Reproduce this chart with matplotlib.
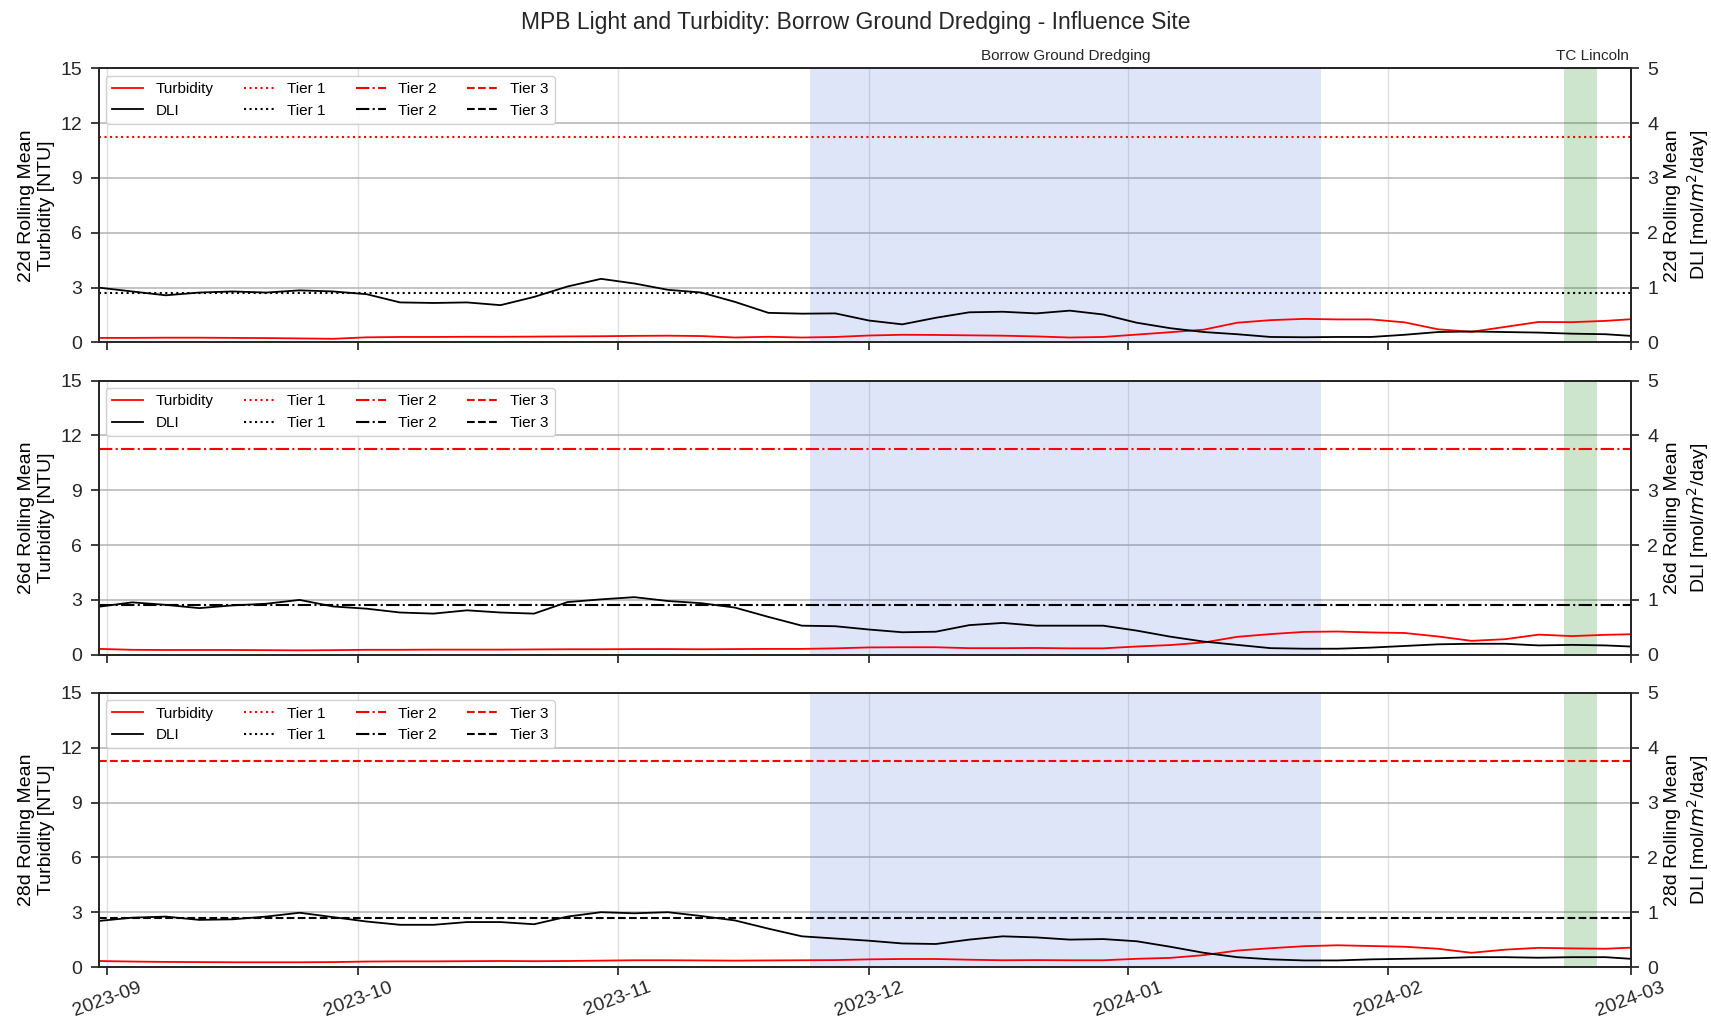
import matplotlib
matplotlib.use("Agg")
import matplotlib.pyplot as plt
import matplotlib.dates as mdates
import matplotlib.transforms as mtransforms
from matplotlib.lines import Line2D
import pandas as pd

# ── Matplotlib defaults ──────────────────────────────────────────────────────
plt.rcParams.update({
    "font.family": ["Liberation Sans", "DejaVu Sans"],
    "font.size": 14,
    "axes.edgecolor": "#262626",
    "axes.linewidth": 1.25,
    "xtick.color": "#262626",
    "ytick.color": "#262626",
    "xtick.major.size": 6,
    "ytick.major.size": 6,
    "xtick.major.width": 1.25,
    "ytick.major.width": 1.25,
    "xtick.major.pad": 2.5,
    "ytick.major.pad": 6,
    "xtick.labelsize": 14,
    "ytick.labelsize": 14,
})

# ── Data ─────────────────────────────────────────────────────────────────────
DATES = pd.date_range("2023-08-31", "2024-02-27", freq="4D").append(
    pd.DatetimeIndex(["2024-03-01"]))

WINDOWS = ["22d", "26d", "28d"]

TURB_22 = [0.25, 0.25, 0.26, 0.26, 0.25, 0.24, 0.22, 0.20, 0.28, 0.30, 0.30, 0.31,
           0.31, 0.32, 0.33, 0.34, 0.36, 0.37, 0.35, 0.27, 0.31, 0.27, 0.30, 0.38,
           0.42, 0.41, 0.39, 0.37, 0.33, 0.27, 0.30, 0.43, 0.56, 0.70, 1.08, 1.22,
           1.29, 1.26, 1.26, 1.10, 0.72, 0.58, 0.85, 1.12, 1.11, 1.18, 1.27]
DLI_22 = [1.00, 0.93, 0.86, 0.91, 0.93, 0.91, 0.95, 0.93, 0.88, 0.73, 0.72, 0.73,
          0.68, 0.83, 1.02, 1.16, 1.075, 0.96, 0.91, 0.74, 0.54, 0.525, 0.53, 0.40,
          0.33, 0.45, 0.55, 0.56, 0.53, 0.58, 0.51, 0.36, 0.26, 0.19, 0.15, 0.10,
          0.095, 0.10, 0.10, 0.14, 0.19, 0.20, 0.19, 0.18, 0.16, 0.15, 0.12]

TURB_26 = [0.32, 0.27, 0.26, 0.26, 0.26, 0.25, 0.24, 0.25, 0.27, 0.27, 0.28, 0.28,
           0.28, 0.29, 0.30, 0.30, 0.31, 0.31, 0.30, 0.31, 0.32, 0.32, 0.35, 0.40,
           0.41, 0.41, 0.36, 0.36, 0.37, 0.35, 0.35, 0.45, 0.53, 0.67, 0.98, 1.13,
           1.25, 1.27, 1.22, 1.19, 1.00, 0.76, 0.85, 1.10, 1.02, 1.09, 1.12]
DLI_26 = [0.875, 0.955, 0.91, 0.85, 0.90, 0.93, 1.00, 0.88, 0.84, 0.77, 0.75, 0.81,
          0.77, 0.75, 0.96, 1.01, 1.05, 0.98, 0.94, 0.86, 0.69, 0.53, 0.52, 0.46,
          0.41, 0.42, 0.54, 0.58, 0.53, 0.53, 0.53, 0.44, 0.33, 0.24, 0.18, 0.12,
          0.11, 0.11, 0.13, 0.16, 0.19, 0.20, 0.20, 0.17, 0.18, 0.17, 0.15]

TURB_28 = [0.33, 0.30, 0.28, 0.27, 0.26, 0.26, 0.26, 0.27, 0.30, 0.31, 0.31, 0.32,
           0.33, 0.32, 0.33, 0.35, 0.37, 0.37, 0.36, 0.35, 0.36, 0.37, 0.38, 0.42,
           0.44, 0.44, 0.40, 0.37, 0.38, 0.37, 0.37, 0.45, 0.50, 0.65, 0.90, 1.03,
           1.14, 1.19, 1.15, 1.11, 1.00, 0.78, 0.95, 1.05, 1.02, 1.00, 1.06]
DLI_28 = [0.84, 0.90, 0.92, 0.86, 0.87, 0.92, 0.99, 0.91, 0.83, 0.77, 0.77, 0.82,
          0.82, 0.78, 0.92, 1.00, 0.98, 1.00, 0.93, 0.85, 0.70, 0.56, 0.52, 0.48,
          0.43, 0.42, 0.50, 0.56, 0.54, 0.50, 0.51, 0.47, 0.37, 0.26, 0.18, 0.14,
          0.12, 0.12, 0.14, 0.15, 0.16, 0.18, 0.18, 0.17, 0.18, 0.18, 0.15]

TURBIDITY = [TURB_22, TURB_26, TURB_28]
DLI = [DLI_22, DLI_26, DLI_28]

TURB_TIER = 11.25
DLI_TIER = 0.9
TIER_STYLES = [":", "-.", "--"]

DREDGING = ("2023-11-24", "2024-01-24")
CYCLONE = ("2024-02-22", "2024-02-26")

XLIM = ("2023-08-31", "2024-03-01")


def main():
    fig, axes = plt.subplots(3, 1, figsize=(17.11, 10.19), dpi=100, sharex=True)
    fig.subplots_adjust(left=0.0577, right=0.953, top=0.933, bottom=0.051,
                        hspace=0.139)

    # legend shows every tier on every panel
    handles = [
        Line2D([], [], color="red", lw=1.3),
        Line2D([], [], color="black", lw=1.3),
    ]
    for ls in TIER_STYLES:
        handles.append(Line2D([], [], color="red", ls=ls, lw=1.5))
        handles.append(Line2D([], [], color="black", ls=ls, lw=1.5))
    labels = ["Turbidity", "DLI", "Tier 1", "Tier 1", "Tier 2", "Tier 2",
              "Tier 3", "Tier 3"]

    for i, ax in enumerate(axes):
        ax.set_axisbelow(True)
        ax.grid(axis="x", color="#e0e0e0", lw=1.0)
        ax.grid(axis="y", color="#b3b3b3", lw=1.1)

        ax.axvspan(pd.Timestamp(DREDGING[0]), pd.Timestamp(DREDGING[1]),
                   color="royalblue", alpha=0.17, lw=0)
        ax.axvspan(pd.Timestamp(CYCLONE[0]), pd.Timestamp(CYCLONE[1]),
                   color="green", alpha=0.2, lw=0)

        ax.plot(DATES, TURBIDITY[i], color="red", lw=1.3)
        ax.axhline(TURB_TIER, color="red", ls=TIER_STYLES[i], lw=1.5)
        ax.set_ylim(0, 15)
        ax.set_yticks(range(0, 16, 3))
        ax.set_ylabel(f"{WINDOWS[i]} Rolling Mean\nTurbidity [NTU]", fontsize=14)

        ax2 = ax.twinx()
        ax2.plot(DATES, DLI[i], color="black", lw=1.3)
        ax2.axhline(DLI_TIER, color="black", ls=TIER_STYLES[i], lw=1.5)
        ax2.set_ylim(0, 5)
        ax2.set_yticks(range(0, 6))
        ax2.set_ylabel(f"{WINDOWS[i]} Rolling Mean\nDLI [mol/$m^2$/day]",
                       fontsize=14)

        ax2.legend(handles, labels, ncol=4, loc="upper left", fontsize=11,
                   frameon=True, edgecolor="#cccccc", framealpha=0.9)

        ax.set_xlim(pd.Timestamp(XLIM[0]), pd.Timestamp(XLIM[1]))

    top = axes[0]
    trans = mtransforms.blended_transform_factory(top.transData, top.transAxes)
    start, end = pd.Timestamp(DREDGING[0]), pd.Timestamp(DREDGING[1])
    top.text(start + (end - start) / 2, 1.02, "Borrow Ground Dredging",
             transform=trans, ha="center", va="bottom", fontsize=11,
             color="#262626")
    label_x = pd.Timestamp(CYCLONE[1]) - pd.Timedelta(hours=12)
    top.text(label_x, 1.02, "TC Lincoln", transform=trans,
             ha="center", va="bottom", fontsize=11, color="#262626")

    bottom = axes[-1]
    bottom.xaxis.set_major_locator(mdates.MonthLocator())
    bottom.xaxis.set_major_formatter(mdates.DateFormatter("%Y-%m"))
    for lbl in bottom.get_xticklabels():
        lbl.set_rotation(20)
        lbl.set_ha("center")

    fig.suptitle("MPB Light and Turbidity: Borrow Ground Dredging - Influence Site",
                 y=0.978, va="center", fontsize=16.5, color="#262626")

    fig.savefig("out.png", dpi=100)
    plt.close(fig)


if __name__ == "__main__":
    main()
